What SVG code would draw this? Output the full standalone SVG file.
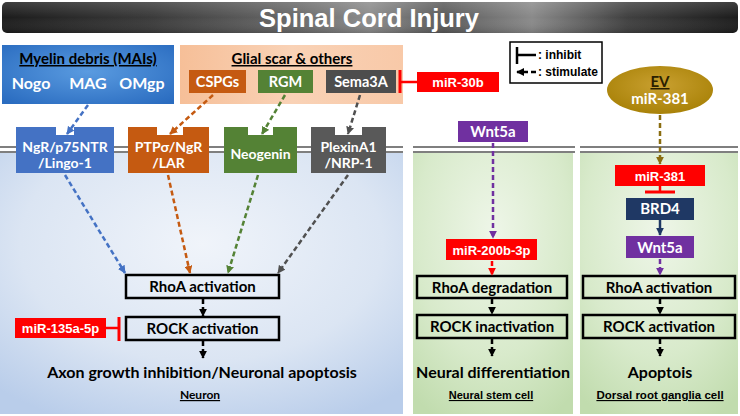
<svg xmlns="http://www.w3.org/2000/svg" width="740" height="416" viewBox="0 0 740 416">
<defs>
<linearGradient id="gTitle" x1="0" y1="0" x2="1" y2="0">
<stop offset="0" stop-color="#1c1c1c"/><stop offset="0.2" stop-color="#3a3a3a"/><stop offset="0.4" stop-color="#6a6a6a"/><stop offset="0.5" stop-color="#8c8c8c"/><stop offset="0.6" stop-color="#5a5a5a"/><stop offset="0.72" stop-color="#8a8a8a"/><stop offset="0.85" stop-color="#404040"/><stop offset="1" stop-color="#1c1c1c"/>
</linearGradient>
<linearGradient id="gTitleV" x1="0" y1="0" x2="0" y2="1">
<stop offset="0" stop-color="#fff" stop-opacity="0.15"/><stop offset="0.5" stop-color="#fff" stop-opacity="0"/><stop offset="1" stop-color="#000" stop-opacity="0.15"/>
</linearGradient>
<radialGradient id="gMyelin" cx="0.5" cy="0.45" r="0.7">
<stop offset="0" stop-color="#5a9be0"/><stop offset="1" stop-color="#2a6cc0"/>
</radialGradient>
<linearGradient id="gGlial" x1="0" y1="0" x2="1" y2="0">
<stop offset="0" stop-color="#f6bf98"/><stop offset="0.5" stop-color="#f9d2b6"/><stop offset="1" stop-color="#f8c9a8"/>
</linearGradient>
<radialGradient id="gBlue" cx="0.5" cy="0.35" r="0.75">
<stop offset="0" stop-color="#f0f4fa"/><stop offset="0.6" stop-color="#dbe5f3"/><stop offset="1" stop-color="#b9cdea"/>
</radialGradient>
<radialGradient id="gGreen" cx="0.5" cy="0.3" r="0.8">
<stop offset="0" stop-color="#eef6e8"/><stop offset="0.6" stop-color="#d8eacb"/><stop offset="1" stop-color="#c1dcae"/>
</radialGradient>
<radialGradient id="gGold" cx="0.5" cy="0.4" r="0.6">
<stop offset="0" stop-color="#c9a030"/><stop offset="1" stop-color="#a98208"/>
</radialGradient>
<marker id="aBlue" viewBox="0 0 10 10" refX="9" refY="5" markerWidth="8" markerHeight="8" markerUnits="userSpaceOnUse" orient="auto"><path d="M0,0 L10,5 L0,10 z" fill="#4472c4"/></marker>
<marker id="aOrange" viewBox="0 0 10 10" refX="9" refY="5" markerWidth="8" markerHeight="8" markerUnits="userSpaceOnUse" orient="auto"><path d="M0,0 L10,5 L0,10 z" fill="#c55a11"/></marker>
<marker id="aGreen" viewBox="0 0 10 10" refX="9" refY="5" markerWidth="8" markerHeight="8" markerUnits="userSpaceOnUse" orient="auto"><path d="M0,0 L10,5 L0,10 z" fill="#548235"/></marker>
<marker id="aGray" viewBox="0 0 10 10" refX="9" refY="5" markerWidth="8" markerHeight="8" markerUnits="userSpaceOnUse" orient="auto"><path d="M0,0 L10,5 L0,10 z" fill="#505050"/></marker>
<marker id="aBlack" viewBox="0 0 10 10" refX="9" refY="5" markerWidth="8" markerHeight="8" markerUnits="userSpaceOnUse" orient="auto"><path d="M0,0 L10,5 L0,10 z" fill="#000"/></marker>
<marker id="aPurple" viewBox="0 0 10 10" refX="9" refY="5" markerWidth="8" markerHeight="8" markerUnits="userSpaceOnUse" orient="auto"><path d="M0,0 L10,5 L0,10 z" fill="#7030a0"/></marker>
<marker id="aRed" viewBox="0 0 10 10" refX="9" refY="5" markerWidth="8" markerHeight="8" markerUnits="userSpaceOnUse" orient="auto"><path d="M0,0 L10,5 L0,10 z" fill="#ff0000"/></marker>
<marker id="aGold" viewBox="0 0 10 10" refX="9" refY="5" markerWidth="8" markerHeight="8" markerUnits="userSpaceOnUse" orient="auto"><path d="M0,0 L10,5 L0,10 z" fill="#8a6d10"/></marker>
<marker id="aNavy" viewBox="0 0 10 10" refX="9" refY="5" markerWidth="8" markerHeight="8" markerUnits="userSpaceOnUse" orient="auto"><path d="M0,0 L10,5 L0,10 z" fill="#1f3864"/></marker>
</defs>
<style>
.lato{font-family:Lato,"Noto Sans","Liberation Sans",sans-serif;font-weight:bold}
.ari{font-family:"Liberation Sans",Arial,sans-serif;font-weight:bold}
.w{fill:#fff}
.k{fill:#000}
.c{text-anchor:middle}
.u{text-decoration:underline}
.box{fill:none;stroke:#000;stroke-width:2.5}
.mem{stroke:#7f7f7f;stroke-width:2.2}
.d{fill:none;stroke-width:2.5;stroke-dasharray:5 3}
.red{fill:#ff0000}
.inh{stroke:#ff0000;fill:none}
</style>

<!-- title -->
<g id="title">
<rect x="2" y="2" width="736" height="31" rx="5" fill="url(#gTitle)"/>
<rect x="2" y="2" width="736" height="31" rx="5" fill="url(#gTitleV)"/>
<text x="369" y="27" class="ari w c" font-size="25" textLength="220" lengthAdjust="spacingAndGlyphs">Spinal Cord Injury</text>
</g>

<!-- panels -->
<g id="panel-neuron">
<rect x="0" y="152" width="403" height="262" fill="url(#gBlue)"/>
<line x1="0" y1="147" x2="403" y2="147" class="mem"/><line x1="0" y1="152" x2="403" y2="152" class="mem"/>
</g>
<g id="panel-nsc">
<rect x="413" y="152" width="160" height="262" fill="url(#gGreen)"/>
<line x1="413" y1="147" x2="575" y2="147" class="mem"/><line x1="413" y1="152" x2="575" y2="152" class="mem"/>
</g>
<g id="panel-drg">
<rect x="580" y="152" width="158" height="262" fill="url(#gGreen)"/>
<line x1="580" y1="147" x2="738" y2="147" class="mem"/><line x1="580" y1="152" x2="738" y2="152" class="mem"/>
</g>

<!-- sources -->
<g id="myelin">
<rect x="2" y="45" width="172" height="59" fill="url(#gMyelin)"/>
<text x="88" y="64" class="lato k c u" font-size="15">Myelin debris (MAIs)</text>
<text x="31" y="89" class="lato w c" font-size="16">Nogo</text>
<text x="88" y="89" class="lato w c" font-size="16">MAG</text>
<text x="142" y="89" class="lato w c" font-size="16">OMgp</text>
</g>
<g id="glial">
<rect x="180" y="45" width="223" height="59" fill="url(#gGlial)"/>
<text x="292" y="64" class="lato k c u" font-size="15">Glial scar &amp; others</text>
</g>
<g id="cspgs"><rect x="189" y="70" width="57" height="23" fill="#c55a11"/><text x="217.5" y="87" class="lato w c" font-size="14.5">CSPGs</text></g>
<g id="rgm"><rect x="258" y="70" width="55" height="23" fill="#548235"/><text x="285.5" y="87" class="lato w c" font-size="14.5">RGM</text></g>
<g id="sema3a"><rect x="326" y="70" width="70" height="23" fill="#4d4d4d"/><text x="361" y="87" class="lato w c" font-size="14.5">Sema3A</text></g>
<g id="mir30b"><rect x="417" y="72" width="82" height="20" class="red"/><text x="458" y="87" class="ari w c" font-size="13">miR-30b</text></g>

<!-- legend -->
<g id="legend">
<rect x="510" y="42" width="92" height="41" fill="#fff" stroke="#000" stroke-width="1.5"/>
<line x1="517" y1="47" x2="517" y2="64" stroke="#000" stroke-width="2.5"/>
<line x1="517" y1="55" x2="536" y2="55" stroke="#000" stroke-width="2.5"/>
<text x="538" y="59" class="ari k" font-size="12">: inhibit</text>
<line x1="536" y1="72" x2="517" y2="72" class="d" stroke="#000" marker-end="url(#aBlack)"/>
<text x="538" y="76" class="ari k" font-size="12">: stimulate</text>
</g>

<g id="ev">
<ellipse cx="660" cy="90" rx="53" ry="24" fill="url(#gGold)"/>
<text x="660" y="87" class="lato c u" font-size="15" fill="#2a2000">EV</text>
<text x="660" y="104" class="lato w c" font-size="15">miR-381</text>
</g>

<!-- receptors -->
<g id="ngr"><path d="M16,127 H56 V135 H74 V127 H114 V173 H16 Z" fill="#4472c4"/><text x="65" y="152" class="lato w c" font-size="14">NgR/p75NTR</text><text x="65" y="168" class="lato w c" font-size="14">/Lingo-1</text></g>
<g id="ptp"><path d="M128,127 H157 V135 H183 V127 H209 V173 H128 Z" fill="#c55a11"/><text x="168.5" y="152" class="lato w c" font-size="14">PTPσ/NgR</text><text x="168.5" y="168" class="lato w c" font-size="14">/LAR</text></g>
<g id="neogenin"><path d="M224,127 H248 V135 H273 V127 H297 V173 H224 Z" fill="#548235"/><text x="260.5" y="159" class="lato w c" font-size="14">Neogenin</text></g>
<g id="plexin"><path d="M311,127 H335 V135 H362 V127 H386 V173 H311 Z" fill="#595959"/><text x="348.5" y="152" class="lato w c" font-size="14">PlexinA1</text><text x="348.5" y="168" class="lato w c" font-size="14">/NRP-1</text></g>

<!-- neuron pathway -->
<g id="rhoa1"><rect x="126" y="275" width="153" height="23" class="box"/><text x="202.5" y="292" class="lato k c" font-size="15">RhoA activation</text></g>
<g id="rock1"><rect x="126" y="317" width="153" height="23" class="box"/><text x="202.5" y="334" class="lato k c" font-size="15">ROCK activation</text></g>
<g id="mir135"><rect x="15" y="318" width="91" height="20" class="red"/><text x="60.5" y="333" class="ari w c" font-size="13">miR-135a-5p</text></g>
<g id="out1"><text x="202" y="378" class="lato k c" font-size="16">Axon growth inhibition/Neuronal apoptosis</text><text x="200" y="399" class="lato k c u" font-size="12">Neuron</text></g>

<!-- NSC pathway -->
<g id="wnt5a1"><rect x="458" y="121" width="70" height="21" fill="#7030a0"/><text x="493" y="137" class="lato w c" font-size="15">Wnt5a</text></g>
<g id="mir200"><rect x="446" y="239" width="91" height="21" class="red"/><text x="491.5" y="255" class="ari w c" font-size="13">miR-200b-3p</text></g>
<g id="rhoa2"><rect x="417" y="276" width="150" height="22" class="box"/><text x="492" y="293" class="lato k c" font-size="15">RhoA degradation</text></g>
<g id="rock2"><rect x="417" y="315" width="150" height="23" class="box"/><text x="492" y="332" class="lato k c" font-size="15">ROCK inactivation</text></g>
<g id="out2"><text x="493" y="378" class="lato k c" font-size="16">Neural differentiation</text><text x="491" y="399" class="ari k c u" font-size="11">Neural stem cell</text></g>

<!-- DRG pathway -->
<g id="mir381"><rect x="615" y="165" width="90" height="21" class="red"/><text x="660" y="181" class="ari w c" font-size="13">miR-381</text></g>
<g id="brd4"><rect x="626" y="198" width="68" height="22" fill="#1f3864"/><text x="660" y="214" class="lato w c" font-size="15">BRD4</text></g>
<g id="wnt5a2"><rect x="626" y="236" width="68" height="22" fill="#7030a0"/><text x="660" y="253" class="lato w c" font-size="15">Wnt5a</text></g>
<g id="rhoa3"><rect x="583" y="276" width="152" height="22" class="box"/><text x="659" y="293" class="lato k c" font-size="15">RhoA activation</text></g>
<g id="rock3"><rect x="583" y="315" width="152" height="23" class="box"/><text x="659" y="332" class="lato k c" font-size="15">ROCK activation</text></g>
<g id="out3"><text x="660" y="378" class="lato k c" font-size="16">Apoptois</text><text x="660" y="399" class="ari k c u" font-size="11.5">Dorsal root ganglia cell</text></g>

<!-- connectors -->
<g id="connectors">
<line x1="88" y1="105" x2="67" y2="134" class="d" stroke="#4472c4" marker-end="url(#aBlue)"/>
<line x1="213" y1="95" x2="170" y2="134" class="d" stroke="#c55a11" marker-end="url(#aOrange)"/>
<line x1="285" y1="95" x2="262" y2="134" class="d" stroke="#548235" marker-end="url(#aGreen)"/>
<line x1="360" y1="95" x2="348" y2="134" class="d" stroke="#505050" marker-end="url(#aGray)"/>
<line x1="399" y1="82" x2="417" y2="82" class="inh" stroke-width="2.5"/>
<line x1="400" y1="70" x2="400" y2="93" class="inh" stroke-width="3"/>
<line x1="65" y1="175" x2="125" y2="273" class="d" stroke="#4472c4" marker-end="url(#aBlue)"/>
<line x1="168" y1="175" x2="190" y2="273" class="d" stroke="#c55a11" marker-end="url(#aOrange)"/>
<line x1="258" y1="175" x2="228" y2="273" class="d" stroke="#548235" marker-end="url(#aGreen)"/>
<line x1="348" y1="175" x2="278" y2="273" class="d" stroke="#505050" marker-end="url(#aGray)"/>
<line x1="203" y1="299" x2="203" y2="316" class="d" stroke="#000" marker-end="url(#aBlack)"/>
<line x1="203" y1="341" x2="203" y2="358" class="d" stroke="#000" marker-end="url(#aBlack)"/>
<line x1="106" y1="328" x2="119" y2="328" class="inh" stroke-width="2.5"/>
<line x1="119" y1="317" x2="119" y2="341" class="inh" stroke-width="3"/>
<line x1="493" y1="143" x2="493" y2="238" class="d" stroke="#7030a0" marker-end="url(#aPurple)"/>
<line x1="492" y1="261" x2="492" y2="275" class="d" stroke="#ff0000" marker-end="url(#aRed)"/>
<line x1="492" y1="299" x2="492" y2="314" class="d" stroke="#000" marker-end="url(#aBlack)"/>
<line x1="492" y1="339" x2="492" y2="356" class="d" stroke="#000" marker-end="url(#aBlack)"/>
<line x1="660" y1="115" x2="660" y2="164" class="d" stroke="#8a6d10" marker-end="url(#aGold)"/>
<line x1="660" y1="186" x2="660" y2="192" class="inh" stroke-width="2.5"/>
<line x1="645" y1="192" x2="675" y2="192" class="inh" stroke-width="3"/>
<line x1="660" y1="220" x2="660" y2="235" stroke="#1f3864" stroke-width="2.5" marker-end="url(#aNavy)"/>
<line x1="660" y1="259" x2="660" y2="275" class="d" stroke="#7030a0" marker-end="url(#aPurple)"/>
<line x1="660" y1="299" x2="660" y2="314" class="d" stroke="#000" marker-end="url(#aBlack)"/>
<line x1="660" y1="339" x2="660" y2="356" class="d" stroke="#000" marker-end="url(#aBlack)"/>
</g>
</svg>
